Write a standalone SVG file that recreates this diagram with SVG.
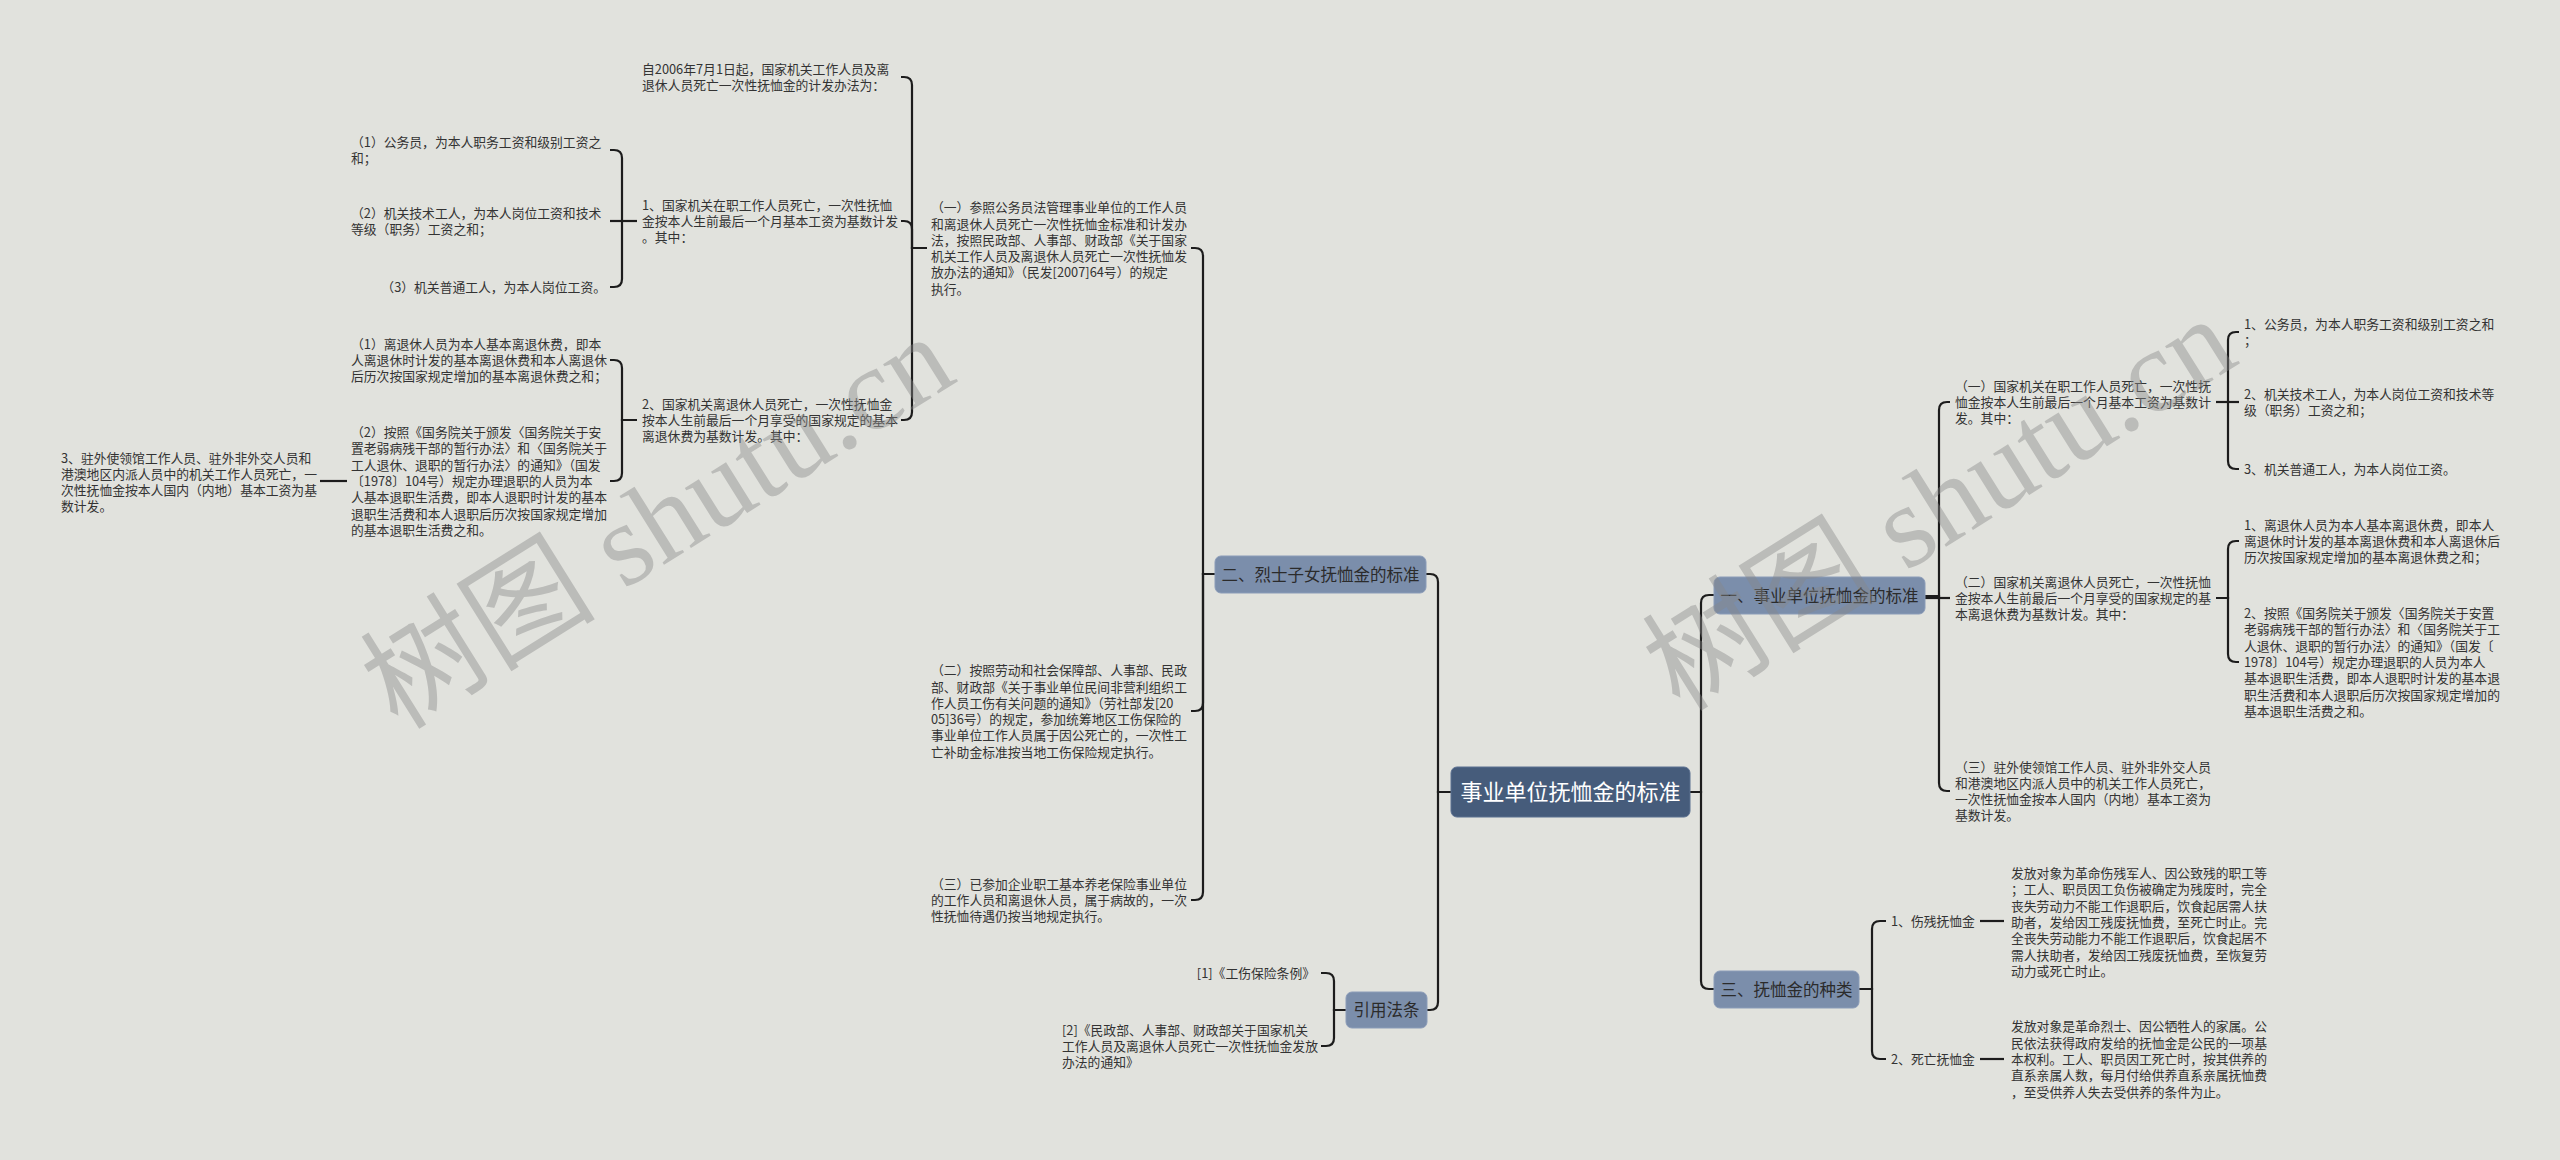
<svg xmlns="http://www.w3.org/2000/svg" width="2560" height="1160" viewBox="0 0 2560 1160">
<style>
.t{font-family:"Noto Sans CJK SC","Noto Sans",sans-serif;font-size:12.8px;fill:#333}
.l1{font-family:"Noto Sans CJK SC","Noto Sans",sans-serif;font-size:16.5px;fill:#2b2b2b;text-anchor:middle}
.rt{font-family:"Noto Sans CJK SC","Noto Sans",sans-serif;font-size:22px;fill:#fff;text-anchor:middle}
.b1{fill:#7b8eab;stroke:#8b9cb8;stroke-width:1}
.b0{fill:#465c7b;stroke:#5b7091;stroke-width:1}
.c path{fill:none;stroke:#1c1c1c;stroke-width:2.2}
.wm{font-family:"Liberation Serif","Noto Sans CJK SC",serif;font-size:118px;fill:#888;opacity:0.42}
</style>
<rect width="2560" height="1160" fill="#e1e2dd"/>
<g class="c" id="connectors">
<path d="M1451,792 H1438 V582 Q1438,574 1430,574 H1426"/>
<path d="M1451,792 H1438 V1002 Q1438,1010 1430,1010 H1427"/>
<path d="M1215,574 H1203 V256 Q1203,248 1195,248 H1191"/>
<path d="M1215,574 H1203 V703 Q1203,711 1195,711 H1191"/>
<path d="M1215,574 H1203 V892 Q1203,900 1195,900 H1191"/>
<path d="M927,248 H912 V85 Q912,77 904,77 H901"/>
<path d="M927,248 H912 V229 Q912,221 904,221 H901"/>
<path d="M927,248 H912 V412 Q912,420 904,420 H901"/>
<path d="M637,221 H622 V158 Q622,150 614,150 H610"/>
<path d="M637,221 H610"/>
<path d="M637,221 H622 V279 Q622,287 614,287 H610"/>
<path d="M637,420 H622 V368 Q622,360 614,360 H610"/>
<path d="M637,420 H622 V473 Q622,481 614,481 H610"/>
<path d="M347,481 H320"/>
<path d="M1346,1010 H1334 V981 Q1334,973 1326,973 H1321"/>
<path d="M1346,1010 H1334 V1038 Q1334,1046 1326,1046 H1321"/>
<path d="M1690,792 H1701 V603 Q1701,595 1709,595 H1714"/>
<path d="M1690,792 H1701 V981 Q1701,989 1709,989 H1714"/>
<path d="M1925,596 H1939 V410 Q1939,402 1947,402 H1950"/>
<path d="M1925,598 H1950"/>
<path d="M1925,596 H1939 V783 Q1939,791 1947,791 H1950"/>
<path d="M2216,402 H2228 V340 Q2228,332 2236,332 H2239"/>
<path d="M2216,402 H2239"/>
<path d="M2216,402 H2228 V461 Q2228,469 2236,469 H2239"/>
<path d="M2216,598 H2228 V549 Q2228,541 2236,541 H2239"/>
<path d="M2216,598 H2228 V654 Q2228,662 2236,662 H2239"/>
<path d="M1859,989 H1872 V929 Q1872,921 1880,921 H1886"/>
<path d="M1859,989 H1872 V1051 Q1872,1059 1880,1059 H1886"/>
<path d="M1980,921 H2004"/>
<path d="M1980,1059 H2004"/>
</g>
<g id="root"><rect class="b0" x="1451" y="767" width="239" height="50" rx="6"/><text class="rt" x="1570.5" y="800">事业单位抚恤金的标准</text></g>
<g id="n2"><rect class="b1" x="1215" y="556" width="211" height="37" rx="6"/><text class="l1" x="1320.5" y="580.5">二、烈士子女抚恤金的标准</text></g>
<g id="nref"><rect class="b1" x="1346" y="992" width="81" height="36" rx="6"/><text class="l1" x="1386.5" y="1016">引用法条</text></g>
<g id="n1"><rect class="b1" x="1714" y="577" width="211" height="37" rx="6"/><text class="l1" x="1819.5" y="601.5">一、事业单位抚恤金的标准</text></g>
<g id="n3"><rect class="b1" x="1714" y="971" width="145" height="37" rx="6"/><text class="l1" x="1786.5" y="995.5">三、抚恤金的种类</text></g>
<g id="a1"><text class="t" x="931" y="212.25"><tspan x="931">（一）参照公务员法管理事业单位的工作人员</tspan><tspan x="931" dy="16.3">和离退休人员死亡一次性抚恤金标准和计发办</tspan><tspan x="931" dy="16.3">法，按照民政部、人事部、财政部《关于国家</tspan><tspan x="931" dy="16.3">机关工作人员及离退休人员死亡一次性抚恤发</tspan><tspan x="931" dy="16.3">放办法的通知》（民发[2007]64号）的规定</tspan><tspan x="931" dy="16.3">执行。</tspan></text></g>
<g id="a2"><text class="t" x="931" y="675.25"><tspan x="931">（二）按照劳动和社会保障部、人事部、民政</tspan><tspan x="931" dy="16.3">部、财政部《关于事业单位民间非营利组织工</tspan><tspan x="931" dy="16.3">作人员工伤有关问题的通知》（劳社部发[20</tspan><tspan x="931" dy="16.3">05]36号）的规定，参加统筹地区工伤保险的</tspan><tspan x="931" dy="16.3">事业单位工作人员属于因公死亡的，一次性工</tspan><tspan x="931" dy="16.3">亡补助金标准按当地工伤保险规定执行。</tspan></text></g>
<g id="a3"><text class="t" x="931" y="888.7"><tspan x="931">（三）已参加企业职工基本养老保险事业单位</tspan><tspan x="931" dy="16.3">的工作人员和离退休人员，属于病故的，一次</tspan><tspan x="931" dy="16.3">性抚恤待遇仍按当地规定执行。</tspan></text></g>
<g id="b1"><text class="t" x="642" y="73.85"><tspan x="642">自2006年7月1日起，国家机关工作人员及离</tspan><tspan x="642" dy="16.3">退休人员死亡一次性抚恤金的计发办法为：</tspan></text></g>
<g id="b2"><text class="t" x="642" y="209.7"><tspan x="642">1、国家机关在职工作人员死亡，一次性抚恤</tspan><tspan x="642" dy="16.3">金按本人生前最后一个月基本工资为基数计发</tspan><tspan x="642" dy="16.3">。其中：</tspan></text></g>
<g id="b3"><text class="t" x="642" y="408.7"><tspan x="642">2、国家机关离退休人员死亡，一次性抚恤金</tspan><tspan x="642" dy="16.3">按本人生前最后一个月享受的国家规定的基本</tspan><tspan x="642" dy="16.3">离退休费为基数计发。其中：</tspan></text></g>
<g id="c1"><text class="t" x="351" y="146.85"><tspan x="351">（1）公务员，为本人职务工资和级别工资之</tspan><tspan x="351" dy="16.3">和；</tspan></text></g>
<g id="c2"><text class="t" x="351" y="217.85"><tspan x="351">（2）机关技术工人，为本人岗位工资和技术</tspan><tspan x="351" dy="16.3">等级（职务）工资之和；</tspan></text></g>
<g id="c3"><text class="t" x="606" y="292" text-anchor="end">（3）机关普通工人，为本人岗位工资。</text></g>
<g id="d1"><text class="t" x="351" y="348.7"><tspan x="351">（1）离退休人员为本人基本离退休费，即本</tspan><tspan x="351" dy="16.3">人离退休时计发的基本离退休费和本人离退休</tspan><tspan x="351" dy="16.3">后历次按国家规定增加的基本离退休费之和；</tspan></text></g>
<g id="d2"><text class="t" x="351" y="437.1"><tspan x="351">（2）按照《国务院关于颁发〈国务院关于安</tspan><tspan x="351" dy="16.3">置老弱病残干部的暂行办法〉和〈国务院关于</tspan><tspan x="351" dy="16.3">工人退休、退职的暂行办法〉的通知》（国发</tspan><tspan x="351" dy="16.3">〔1978〕104号）规定办理退职的人员为本</tspan><tspan x="351" dy="16.3">人基本退职生活费，即本人退职时计发的基本</tspan><tspan x="351" dy="16.3">退职生活费和本人退职后历次按国家规定增加</tspan><tspan x="351" dy="16.3">的基本退职生活费之和。</tspan></text></g>
<g id="e1"><text class="t" x="61" y="462.55"><tspan x="61">3、驻外使领馆工作人员、驻外非外交人员和</tspan><tspan x="61" dy="16.3">港澳地区内派人员中的机关工作人员死亡，一</tspan><tspan x="61" dy="16.3">次性抚恤金按本人国内（内地）基本工资为基</tspan><tspan x="61" dy="16.3">数计发。</tspan></text></g>
<g id="r1"><text class="t" x="1315" y="978" text-anchor="end">[1]《工伤保险条例》</text></g>
<g id="r2"><text class="t" x="1062" y="1034.7"><tspan x="1062">[2]《民政部、人事部、财政部关于国家机关</tspan><tspan x="1062" dy="16.3">工作人员及离退休人员死亡一次性抚恤金发放</tspan><tspan x="1062" dy="16.3">办法的通知》</tspan></text></g>
<g id="g1"><text class="t" x="1955" y="390.7"><tspan x="1955">（一）国家机关在职工作人员死亡，一次性抚</tspan><tspan x="1955" dy="16.3">恤金按本人生前最后一个月基本工资为基数计</tspan><tspan x="1955" dy="16.3">发。其中：</tspan></text></g>
<g id="g2"><text class="t" x="1955" y="586.7"><tspan x="1955">（二）国家机关离退休人员死亡，一次性抚恤</tspan><tspan x="1955" dy="16.3">金按本人生前最后一个月享受的国家规定的基</tspan><tspan x="1955" dy="16.3">本离退休费为基数计发。其中：</tspan></text></g>
<g id="g3"><text class="t" x="1955" y="771.55"><tspan x="1955">（三）驻外使领馆工作人员、驻外非外交人员</tspan><tspan x="1955" dy="16.3">和港澳地区内派人员中的机关工作人员死亡，</tspan><tspan x="1955" dy="16.3">一次性抚恤金按本人国内（内地）基本工资为</tspan><tspan x="1955" dy="16.3">基数计发。</tspan></text></g>
<g id="h1"><text class="t" x="2244" y="328.85"><tspan x="2244">1、公务员，为本人职务工资和级别工资之和</tspan><tspan x="2244" dy="16.3">；</tspan></text></g>
<g id="h2"><text class="t" x="2244" y="398.85"><tspan x="2244">2、机关技术工人，为本人岗位工资和技术等</tspan><tspan x="2244" dy="16.3">级（职务）工资之和；</tspan></text></g>
<g id="h3"><text class="t" x="2244" y="474">3、机关普通工人，为本人岗位工资。</text></g>
<g id="i1"><text class="t" x="2244" y="529.7"><tspan x="2244">1、离退休人员为本人基本离退休费，即本人</tspan><tspan x="2244" dy="16.3">离退休时计发的基本离退休费和本人离退休后</tspan><tspan x="2244" dy="16.3">历次按国家规定增加的基本离退休费之和；</tspan></text></g>
<g id="i2"><text class="t" x="2244" y="618.1"><tspan x="2244">2、按照《国务院关于颁发〈国务院关于安置</tspan><tspan x="2244" dy="16.3">老弱病残干部的暂行办法〉和〈国务院关于工</tspan><tspan x="2244" dy="16.3">人退休、退职的暂行办法〉的通知》（国发〔</tspan><tspan x="2244" dy="16.3">1978〕104号）规定办理退职的人员为本人</tspan><tspan x="2244" dy="16.3">基本退职生活费，即本人退职时计发的基本退</tspan><tspan x="2244" dy="16.3">职生活费和本人退职后历次按国家规定增加的</tspan><tspan x="2244" dy="16.3">基本退职生活费之和。</tspan></text></g>
<g id="j1"><text class="t" x="1891" y="926">1、伤残抚恤金</text></g>
<g id="j2"><text class="t" x="1891" y="1064">2、死亡抚恤金</text></g>
<g id="k1"><text class="t" x="2011" y="878.1"><tspan x="2011">发放对象为革命伤残军人、因公致残的职工等</tspan><tspan x="2011" dy="16.3">；工人、职员因工负伤被确定为残废时，完全</tspan><tspan x="2011" dy="16.3">丧失劳动力不能工作退职后，饮食起居需人扶</tspan><tspan x="2011" dy="16.3">助者，发给因工残废抚恤费，至死亡时止。完</tspan><tspan x="2011" dy="16.3">全丧失劳动能力不能工作退职后，饮食起居不</tspan><tspan x="2011" dy="16.3">需人扶助者，发给因工残废抚恤费，至恢复劳</tspan><tspan x="2011" dy="16.3">动力或死亡时止。</tspan></text></g>
<g id="k2"><text class="t" x="2011" y="1031.4"><tspan x="2011">发放对象是革命烈士、因公牺牲人的家属。公</tspan><tspan x="2011" dy="16.3">民依法获得政府发给的抚恤金是公民的一项基</tspan><tspan x="2011" dy="16.3">本权利。工人、职员因工死亡时，按其供养的</tspan><tspan x="2011" dy="16.3">直系亲属人数，每月付给供养直系亲属抚恤费</tspan><tspan x="2011" dy="16.3">，至受供养人失去受供养的条件为止。</tspan></text></g>
<g id="watermark">
<text class="wm" transform="translate(398,731) rotate(-32)">树图 shutu.cn</text>
<text class="wm" transform="translate(1680,713) rotate(-32)">树图 shutu.cn</text>
</g>
</svg>
